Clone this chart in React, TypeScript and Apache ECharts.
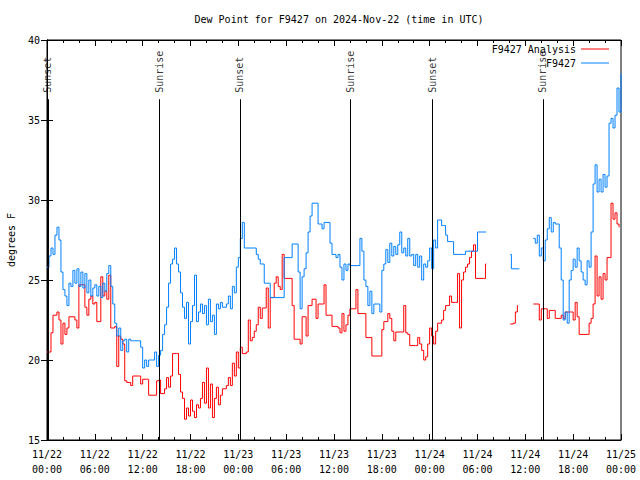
import React, { useEffect, useRef } from "react";
import * as echarts from "echarts";

// hours since 2024-11-22 00:00 UTC
const xTickHours = [0, 6, 12, 18, 24, 30, 36, 42, 48, 54, 60, 66, 72];

const sunHours = [0.12, 14.05, 24.2, 38.1, 48.3, 62.2];
const sunLabels = ["Sunset", "Sunrise", "Sunset", "Sunrise", "Sunset", "Sunrise"];

const analysisHours = [
  0, 0.5, 0.75, 1.25, 1.5, 1.75, 2, 2.25, 2.5, 2.75, 3.5, 3.75, 4, 4.5, 4.75, 5, 5.25, 5.5, 5.75, 6,
  6.25, 6.5, 6.75, 7, 7.25, 7.5, 7.75, 8, 8.5, 8.75, 9, 9.25, 9.5, 9.75, 10, 10.5, 10.75, 11.5, 11.75, 12,
  12.5, 12.75, 13.75, 14, 14.25, 14.75, 15, 15.25, 15.5, 15.75, 16.25, 16.5, 16.75, 17, 17.25, 17.5, 17.75, 18, 18.25, 18.5,
  18.75, 19, 19.25, 19.5, 19.75, 20, 20.25, 20.5, 20.75, 21, 21.25, 21.5, 21.75, 22, 22.5, 22.75, 23, 23.25, 23.5, 23.75,
  24, 24.25, 24.5, 25, 25.25, 25.5, 25.75, 26, 26.25, 26.5, 26.75, 27, 27.5, 27.75, 28, 28.25, 28.5, 28.75, 29, 29.25,
  29.5, 29.75, 30.5, 30.75, 31, 31.75, 32, 32.5, 32.75, 33.25, 33.75, 34, 34.5, 34.75, 35, 35.5, 35.75, 36.5, 36.75, 37,
  37.25, 37.5, 37.75, 38, 38.5, 38.75, 39, 39.75, 40, 40.75, 41.75, 42, 42.25, 42.75, 43, 43.25, 43.5, 43.75, 44.5, 44.75,
  45, 45.25, 45.5, 46.25, 46.5, 46.75, 47, 47.25, 47.5, 47.75, 48, 48.25, 48.5, 48.75, 49, 49.5, 49.75, 50, 50.5, 50.75,
  51.25, 51.5, 51.75, 52, 52.25, 52.5, 52.75, 53, 53.25, 53.5, 53.75, 54.75, 55, 55.1,
  58.1, 58.5, 58.75, 59, 59.1,
  61, 61.75, 62, 62.5, 62.75, 63, 63.5, 63.75, 64.5, 64.75, 65, 65.75, 66, 66.25, 66.5, 66.75, 67.75, 68, 68.25, 68.5,
  68.75, 69, 69.25, 69.5, 69.75, 70, 70.25, 70.5, 70.75, 71, 71.25, 71.5, 71.75,
];
const analysisValues = [
  20.5, 21.7, 22.8, 23.0, 22.5, 21.0, 22.3, 21.6, 22.0, 22.7, 22.5, 22.0, 24.7, 24.7, 23.3, 22.8, 23.8, 24.0, 23.5, 23.6,
  22.4, 22.4, 25.2, 24.0, 24.3, 23.8, 25.3, 22.0, 22.1, 19.6, 21.5, 21.3, 21.0, 18.7, 18.6, 18.4, 19.0, 19.0, 18.5, 18.8,
  18.8, 17.8, 18.7, 18.75, 17.9, 18.2, 18.9, 18.3, 19.0, 20.4, 20.4, 19.1, 18.0, 17.6, 16.3, 17.0, 16.5, 17.5, 16.8, 16.4,
  17.2, 17.0, 17.6, 18.6, 17.3, 19.5, 17.0, 18.5, 16.4, 17.6, 18.3, 17.2, 17.8, 18.2, 18.4, 18.9, 18.4, 19.8, 19.0, 20.5,
  19.5, 20.8, 20.4, 20.5, 22.5, 21.2, 21.4, 21.8, 22.2, 23.3, 22.6, 23.25, 24.5, 22.0, 23.9, 23.9, 24.8, 25.2, 24.6, 24.4,
  26.6, 25.1, 25.1, 23.4, 21.3, 21.0, 22.7, 21.5, 23.4, 23.8, 22.6, 23.5, 23.5, 24.7, 22.8, 22.8, 22.1, 22.0, 21.7, 22.9,
  21.8, 22.2, 22.8, 23.2, 23.2, 24.4, 22.9, 22.9, 21.4, 20.25, 20.25, 21.9, 22.4, 22.9, 22.6, 21.8, 21.2, 21.75, 21.75, 23.4,
  21.7, 21.6, 20.9, 20.9, 21.4, 21.0, 20.6, 20.0, 20.2, 21.0, 22.0, 21.5, 21.0, 21.8, 22.3, 22.5, 23.1, 23.4, 24.0, 23.6,
  23.6, 25.4, 22.0, 25.0, 25.5, 25.8, 26.0, 26.4, 26.8, 27.2, 25.1, 25.1, 26.0, null,
  22.25, 22.3, 23.0, 23.4, null,
  23.5, 22.5, 23.2, 23.2, 22.6, 23.1, 23.1, 22.6, 22.8, 22.6, 23.0, 23.0, 22.5, 23.6, 22.7, 21.6, 21.6, 22.3, 22.6, 23.5,
  26.5, 24.0, 25.2, 23.8, 25.4, 25.0, 26.4, 26.4, 29.8, 28.8, 29.2, 28.5, 28.3,
];

const stationHours = [
  0, 0.25, 0.5, 0.75, 1, 1.25, 1.5, 1.75, 2, 2.25, 2.5, 2.75, 3, 3.25, 3.5, 3.75, 4, 4.25, 4.5, 4.75,
  5, 5.25, 5.5, 5.75, 6, 6.25, 6.5, 6.75, 7, 7.25, 7.5, 7.75, 8, 8.25, 8.5, 8.75, 9, 9.25, 9.5, 9.75,
  10, 10.25, 10.5, 10.75, 11, 11.5, 11.75, 12, 12.25, 12.5, 12.75, 13, 13.25, 13.5, 13.75, 14, 14.25, 14.5, 14.75, 15,
  15.25, 15.5, 15.75, 16, 16.25, 16.5, 16.75, 17, 17.25, 17.5, 17.75, 18, 18.25, 18.5, 18.75, 19, 19.25, 19.5, 19.75, 20,
  20.25, 20.5, 20.75, 21, 21.25, 21.5, 21.75, 22, 22.5, 22.75, 23, 23.25, 23.5, 23.75, 24, 24.25, 24.5, 24.75, 25, 26,
  26.25, 26.5, 26.75, 27.25, 27.75, 28, 29.5, 29.75, 30.5, 30.75, 31.25, 31.5, 31.75, 32, 32.25, 32.5, 32.75, 33, 33.25, 33.75,
  34, 34.5, 34.75, 35.25, 35.5, 35.75, 36.25, 36.5, 36.75, 37, 37.25, 37.5, 37.75, 38, 39, 39.25, 39.5, 39.75, 40, 40.25,
  40.5, 40.75, 41, 41.5, 41.75, 42, 42.25, 42.5, 42.75, 43, 43.25, 43.5, 43.75, 44, 44.25, 44.5, 44.75, 45, 45.25, 45.5,
  45.75, 46, 46.25, 46.5, 46.75, 47, 47.25, 47.5, 47.75, 48, 48.25, 48.5, 48.75, 49, 49.5, 49.75, 50, 50.25, 50.75, 51,
  52.25, 52.5, 53.75, 54, 55, 55.1,
  58.1, 58.25, 59.25, 59.3,
  61, 61.25, 61.5, 61.75, 62, 62.25, 62.5, 62.75, 63, 63.25, 63.5, 63.75, 64, 64.25, 64.5, 64.75, 65, 65.25, 65.5, 65.75,
  66, 66.25, 66.5, 66.75, 67, 67.25, 67.5, 67.75, 68, 68.25, 68.5, 68.75, 69, 69.25, 69.5, 69.75, 70, 70.25, 70.5, 70.75,
  71, 71.25, 71.5, 71.75, 72,
];
const stationValues = [
  25.8, 26.5, 27.0, 26.6, 27.8, 28.3, 27.5, 25.5, 24.4, 24.0, 23.4, 24.8, 24.6, 25.6, 24.8, 25.7, 24.6, 25.5, 24.5, 25.4,
  24.2, 25.0, 24.0, 24.5, 24.7, 24.0, 24.6, 23.9, 24.8, 24.3, 25.4, 25.9, 24.6, 23.5, 22.3, 21.5, 22.0, 20.6, 21.2, 21.3,
  20.5, 21.3, 21.2, 21.2, 21.2, 21.2, 20.8, 19.5, 20.0, 19.6, 20.0, 20.0, 20.0, 20.5, 19.6, 20.3, 20.6, 21.6, 22.2, 23.3,
  24.8, 26.0, 26.3, 27.0, 26.0, 25.5, 24.2, 23.3, 22.6, 23.6, 21.0, 22.4, 23.4, 25.3, 22.4, 23.0, 23.5, 22.9, 23.4, 22.2,
  23.8, 22.4, 22.8, 21.6, 23.5, 23.2, 23.6, 23.3, 23.5, 24.0, 23.2, 24.6, 24.2, 25.8, 26.4, 27.6, 28.6, 27.0, 27.0, 27.0,
  26.6, 26.3, 26.0, 24.8, 24.8, 23.9, 23.9, 26.4, 26.4, 27.25, 27.25, 25.5, 23.2, 25.2, 25.7, 26.7, 28.0, 29.0, 29.8, 29.8,
  28.5, 28.2, 28.6, 28.6, 27.3, 26.6, 26.4, 26.6, 25.8, 25.0, 26.0, 25.6, 26.0, 25.9, 25.9, 27.6, 26.8, 25.0, 24.6, 23.4,
  24.3, 22.9, 23.5, 23.5, 23.0, 25.6, 26.0, 26.9, 26.1, 27.3, 26.5, 27.1, 26.6, 27.2, 28.0, 26.7, 27.0, 26.5, 27.6, 26.5,
  26.6, 25.9, 26.6, 25.8, 26.5, 25.0, 26.0, 25.8, 26.2, 27.0, 25.7, 27.5, 27.0, 28.75, 28.4, 28.4, 27.8, 27.4, 27.4, 26.6,
  26.6, 26.8, 26.8, 28.0, 28.0, null,
  26.6, 25.7, 25.7, null,
  27.6, 27.3, 27.8, 26.5, 27.0, 26.2, 27.5, 28.2, 28.9, 28.0, 28.6, 28.5, 28.5, 27.0, 25.0, 22.5, 23.0, 22.3, 25.0, 25.6,
  26.3, 25.8, 27.0, 26.2, 25.5, 25.0, 24.7, 26.2, 25.8, 28.0, 31.0, 32.2, 30.5, 31.3, 30.5, 31.6, 30.8, 31.5, 34.8, 35.1,
  34.5, 35.3, 37.0, 35.5, 37.9,
];

const FONT = "'DejaVu Sans Mono', 'Liberation Mono', monospace";

function fmtHour(h: number): string {
  const day = 22 + Math.floor(h / 24);
  const hh = Math.round(h % 24);
  return `11/${day}\n${String(hh).padStart(2, "0")}:00`;
}

export default function App() {
  const ref = useRef<HTMLDivElement>(null);
  useEffect(() => {
    if (!ref.current) return;
    const chart = echarts.init(ref.current, undefined, { renderer: "svg" });
    const zip = (xs: number[], ys: (number | null)[]) => xs.map((x, i) => [x, ys[i] === null ? "-" : ys[i]]);
    const axisCommon = {
      min: xTickHours[0],
      max: xTickHours[xTickHours.length - 1],
      interval: 6,
      axisLine: { show: true, lineStyle: { color: "#000", width: 1 } },
      axisTick: { show: true, inside: true, length: 6, lineStyle: { color: "#000" } },
      minorTick: { show: true, splitNumber: 3, length: 3, lineStyle: { color: "#000" } },
      splitLine: { show: false },
    };
    const legendCommon = {
      right: 31,
      padding: 0,
      align: "right",
      icon: "rect",
      itemWidth: 28,
      itemHeight: 1,
      textStyle: { fontFamily: FONT, fontSize: 10, color: "#000" },
    };
    chart.setOption({
      animation: false,
      backgroundColor: "#fff",
      title: {
        text: "Dew Point for F9427 on 2024-Nov-22 (time in UTC)",
        left: 334,
        textAlign: "center",
        top: 9,
        textStyle: { fontFamily: FONT, fontSize: 10, fontWeight: "normal", color: "#000" },
      },
      legend: [
        { ...legendCommon, data: ["F9427 Analysis"], top: 44 },
        { ...legendCommon, data: ["F9427"], top: 58 },
      ],
      grid: {
        left: 47,
        right: 19,
        top: 40,
        bottom: 40,
        outerBoundsMode: "none",
        containLabel: false,
        show: true,
        borderColor: "#000",
        borderWidth: 1,
        backgroundColor: "transparent",
      },
      xAxis: [
        {
          type: "value",
          position: "bottom",
          ...axisCommon,
          axisLabel: {
            show: true,
            fontFamily: FONT,
            fontSize: 10,
            color: "#000",
            lineHeight: 15,
            margin: 7,
            formatter: (v: number) => fmtHour(v),
          },
        },
        {
          type: "value",
          position: "top",
          ...axisCommon,
          axisLabel: { show: false },
        },
      ],
      yAxis: [
        {
          type: "value",
          min: 15,
          max: 40,
          interval: 5,
          name: "degrees F",
          nameLocation: "middle",
          nameGap: 31,
          nameTextStyle: { fontFamily: FONT, fontSize: 10, color: "#000" },
          axisLine: { show: true, lineStyle: { color: "#000" } },
          axisTick: { show: true, inside: true, length: 6, lineStyle: { color: "#000" } },
          axisLabel: { fontFamily: FONT, fontSize: 10, color: "#000", margin: 7 },
          splitLine: { show: false },
        },
        {
          type: "value",
          min: 15,
          max: 40,
          interval: 5,
          position: "right",
          axisLine: { show: true, lineStyle: { color: "#000" } },
          axisTick: { show: true, inside: true, length: 6, lineStyle: { color: "#000" } },
          axisLabel: { show: false },
          splitLine: { show: false },
        },
      ],
      series: [
        {
          name: "sun",
          type: "scatter",
          silent: true,
          symbolSize: 1,
          itemStyle: { color: "transparent" },
          data: sunHours.map((h, i) => ({ value: [h, 36.7], name: sunLabels[i] })),
          label: {
            show: true,
            formatter: (p: any) => p.name,
            position: "inside",
            rotate: 90,
            align: "left",
            verticalAlign: "middle",
            fontFamily: FONT,
            fontSize: 10,
            color: "#000",
          },
          markLine: {
            silent: true,
            symbol: "none",
            label: { show: false },
            lineStyle: { color: "#000", width: 1, type: "solid" },
            data: sunHours.map((h) => [{ coord: [h, 15] }, { coord: [h, 36.3] }]),
          },
          z: 1,
        },
        {
          name: "F9427 Analysis",
          type: "line",
          step: "end",
          showSymbol: false,
          connectNulls: false,
          color: "#ff0000",
          lineStyle: { color: "#ff0000", width: 1 },
          data: zip(analysisHours, analysisValues),
          z: 2,
        },
        {
          name: "F9427",
          type: "line",
          step: "end",
          showSymbol: false,
          connectNulls: false,
          color: "#0080ff",
          lineStyle: { color: "#0080ff", width: 1 },
          data: zip(stationHours, stationValues),
          z: 3,
        },
      ],
    });
    return () => chart.dispose();
  }, []);
  return (
    <div
      ref={ref}
      style={{ position: "fixed", left: 0, top: 0, width: 640, height: 480, background: "#fff" }}
    />
  );
}
